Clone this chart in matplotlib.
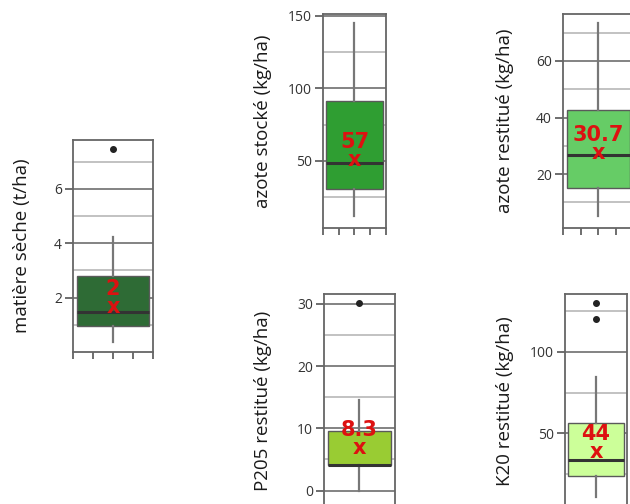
import matplotlib
matplotlib.use("Agg")
import matplotlib.pyplot as plt
import numpy as np

# data (one box per variable)
labels = ["matière sèche (t/ha)", "azote stocké (kg/ha)", "azote restitué (kg/ha)",
          "P205 restitué (kg/ha)", "K20 restitué (kg/ha)"]
q1 = [0.97, 30.8, 15.1, 4.1, 23.9]
med = [1.48, 48.4, 26.8, 4.1, 33.7]
q3 = [2.8, 91.2, 42.7, 9.5, 56.1]
whis_lo = [0.38, 12.2, 5.1, 0.0, 11.2]
whis_hi = [4.22, 144.9, 73.3, 14.6, 84.7]
fliers = [[7.47], [], [], [30.1], [129.6, 120.0]]
means = [2, 57, 30.7, 8.3, 44]
mean_labels = ["2", "57", "30.7", "8.3", "44"]
box_colors = ["#2e6b35", "#2f9e32", "#66cc66", "#99cc33", "#ccff99"]

ylims = [(0, 7.8), (3.7, 151.3), (0.95, 76.6), (-2.8, 31.6), (4.3, 135.3)]
major_ticks = [[2, 4, 6], [50, 100, 150], [20, 40, 60], [0, 10, 20, 30], [50, 100]]
minor_ticks = [[1, 3, 5, 7], [25, 75, 125], [10, 30, 50, 70], [5, 15, 25], [25, 75, 125]]

# axes placement in pixels (left, top, width, height) on a 630x504 canvas
W, H = 630, 504
boxes_px = [(73, 140, 80, 212), (323, 14, 63, 214), (563, 14, 70, 214),
            (324, 294, 71, 214), (565, 294, 62, 214)]
label_x = [-0.64, -0.95, -0.83, -0.86, -0.97]

fig = plt.figure(figsize=(6.3, 5.04), dpi=100)

for i in range(5):
    l, t, w, h = boxes_px[i]
    ax = fig.add_axes([l / W, (H - t - h) / H, w / W, h / H])

    stats = [dict(med=med[i], q1=q1[i], q3=q3[i], whislo=whis_lo[i],
                  whishi=whis_hi[i], fliers=fliers[i])]
    ax.bxp(stats, positions=[1], widths=0.9, showcaps=False, patch_artist=True,
           boxprops=dict(facecolor=box_colors[i], edgecolor="#5a5a5a", linewidth=1),
           medianprops=dict(color="#333333", linewidth=2.2),
           whiskerprops=dict(color="#777777", linewidth=1.6),
           flierprops=dict(marker="o", markerfacecolor="#222222",
                           markeredgecolor="#222222", markersize=4),
           zorder=3)

    # red mean annotation
    ax.annotate(mean_labels[i], (1, means[i]), xytext=(0, 6.5), textcoords="offset points",
                ha="center", va="center", color="#dd1111", fontsize=15,
                fontweight="bold", zorder=5)
    ax.annotate("x", (1, means[i]), xytext=(0, -6.5), textcoords="offset points",
                ha="center", va="center", color="#dd1111", fontsize=15,
                fontweight="bold", zorder=5)

    ax.set_xlim(0.5, 1.5)
    ax.set_ylim(*ylims[i])
    ax.set_xticks(np.linspace(0.5, 1.5, 5))
    ax.set_xticklabels([])
    ax.set_yticks(major_ticks[i])
    ax.set_yticks(minor_ticks[i], minor=True)
    ax.grid(True, which="major", axis="y", color="#7a7a7a", linewidth=1.3, zorder=0)
    ax.grid(True, which="minor", axis="y", color="#bdbdbd", linewidth=1.3, zorder=0)
    ax.set_axisbelow(True)
    ax.tick_params(axis="y", which="major", length=6, width=1.2, color="#555555",
                   labelsize=10, labelcolor="#333333", pad=2)
    ax.tick_params(axis="y", which="minor", length=0)
    ax.tick_params(axis="x", length=5, width=1.2, color="#555555")
    for tl in ax.get_yticklabels():
        tl.set_family("Open Sans")
    for sp in ax.spines.values():
        sp.set_color("#666666")
        sp.set_linewidth(1.3)

    ax.set_ylabel(labels[i], fontsize=13.5, family="Open Sans", color="#1a1a1a",
                  va="center")
    ax.yaxis.set_label_coords(label_x[i], 0.5)

fig.savefig("out.png", dpi=100)
